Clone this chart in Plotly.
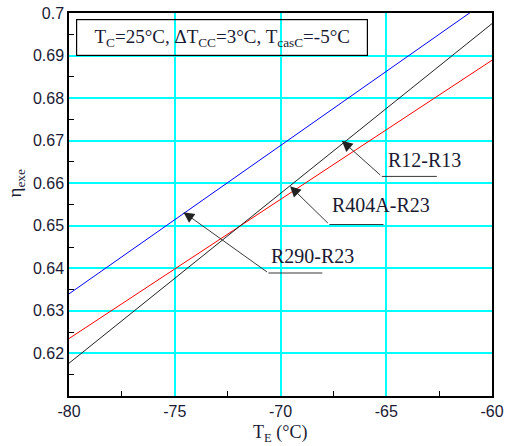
import plotly.graph_objects as go

# Evaporating temperature (°C) – end points of each straight line
te = [-80, -60]
eta_r12_r13 = [0.6177, 0.6975]
eta_r404a_r23 = [0.6235, 0.6889]
eta_r290_r23 = [0.6340, 0.7037]

series = [
    ("R290-R23", eta_r290_r23, "#0000FF"),
    ("R404A-R23", eta_r404a_r23, "#FF0000"),
    ("R12-R13", eta_r12_r13, "#222222"),
]

x_ticks = [-80, -75, -70, -65, -60]
x_ticktext = ["-80", "-75", "-70", "-65", "-60"]
y_ticks = [0.62, 0.63, 0.64, 0.65, 0.66, 0.67, 0.68, 0.69, 0.70]
y_ticktext = ["0.62", "0.63", "0.64", "0.65", "0.66", "0.67", "0.68", "0.69", "0.7"]

fig = go.Figure()
for name, vals, col in series:
    fig.add_trace(go.Scatter(x=te, y=vals, mode="lines", name=name,
                             line=dict(color=col, width=1)))

tick_font = dict(family="Liberation Sans, Arial, sans-serif", size=16, color="#1a1a33")
serif = "Liberation Serif, Times New Roman, serif"

fig.update_xaxes(range=[-80, -60], tickvals=x_ticks, ticktext=x_ticktext, ticks="", showgrid=True,
                 gridcolor="#00FFFF", gridwidth=1.5, zeroline=False, automargin=False,
                 showline=True, linecolor="black", linewidth=1.5, mirror=True,
                 tickfont=tick_font, ticklabeloverflow="allow",
                 minor=dict(tickvals=[-77.5, -72.5, -67.5, -62.5], ticks="inside",
                            ticklen=5, tickcolor="black", showgrid=False))
fig.update_yaxes(range=[0.61, 0.70], tickvals=y_ticks, ticktext=y_ticktext, ticks="",
                 showgrid=True, gridcolor="#00FFFF", gridwidth=1.5, zeroline=False, automargin=False,
                 showline=True, linecolor="black", linewidth=1.5, mirror=True,
                 tickfont=tick_font, ticklabeloverflow="allow",
                 minor=dict(tickvals=[0.615, 0.625, 0.635, 0.645, 0.655, 0.665, 0.675, 0.685, 0.695],
                            ticks="inside", ticklen=5, tickcolor="black", showgrid=False))

# axis titles as annotations
fig.add_annotation(x=0.499, y=-0.097, xref="paper", yref="paper", xanchor="center", yanchor="middle",
                   text="T<sub>E</sub> (°C)", showarrow=False,
                   font=dict(family=serif, size=18, color="#1a1a33"))
fig.add_annotation(x=-0.125, y=0.555, xref="paper", yref="paper", xanchor="center", yanchor="middle",
                   text="η<sub>exe</sub>", showarrow=False, textangle=-90,
                   font=dict(family=serif, size=19, color="#1a1a33"))

# Arrow annotations: (label, tip x, tip y, corner x, corner y, end x, text x, text y)
labels = [
    ("R12-R13", -67.1, 0.6700, -65.21, 0.6616, -62.61, -63.2, 0.6654),
    ("R404A-R23", -69.55, 0.6593, -67.69, 0.6503, -65.13, -65.26, 0.6549),
    ("R290-R23", -74.59, 0.6532, -70.57, 0.6389, -68.02, -68.47, 0.6428),
]
for txt, tx, ty, cx, cy, ex, lx, ly in labels:
    fig.add_annotation(x=tx, y=ty, ax=cx, ay=cy, xref="x", yref="y", axref="x", ayref="y",
                       text="", showarrow=True, arrowhead=2, arrowsize=2.4, arrowwidth=0.9,
                       arrowcolor="#222222")
    fig.add_shape(type="line", x0=cx, y0=cy, x1=ex, y1=cy, xref="x", yref="y",
                  line=dict(color="#222222", width=0.9))
    fig.add_annotation(x=lx, y=ly, xref="x", yref="y", text=txt, showarrow=False,
                       font=dict(family=serif, size=20, color="#1a1a33"))

fig.add_annotation(x=0.361, y=0.937, xref="paper", yref="paper", xanchor="center", yanchor="middle",
                   text="T<sub>C</sub>=25°C, ΔT<sub>CC</sub>=3°C, T<sub>casC</sub>=-5°C",
                   showarrow=False, bordercolor="black", borderwidth=1.2, borderpad=3,
                   width=284, height=29,
                   font=dict(family=serif, size=19, color="#1a1a33"))

fig.update_layout(width=505, height=446, margin=dict(l=69, r=13, t=13, b=50),
                  paper_bgcolor="white", plot_bgcolor="white", showlegend=False)

fig.write_html("out.html")
